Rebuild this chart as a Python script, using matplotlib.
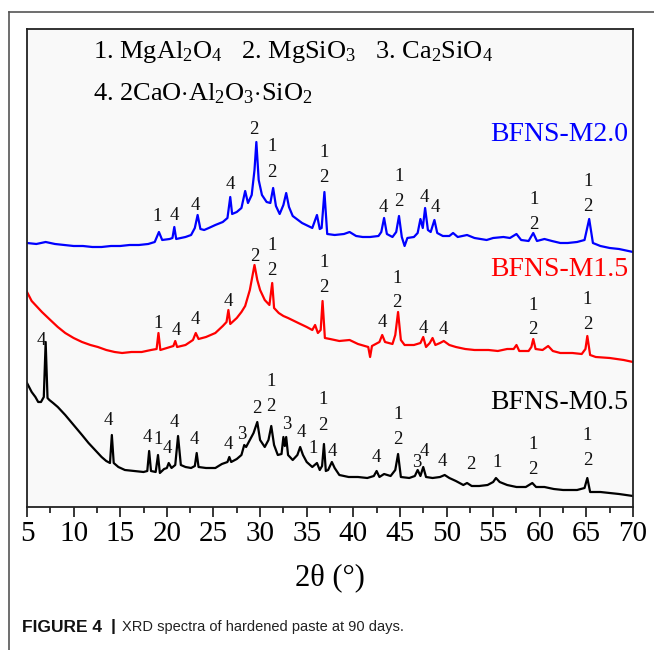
import matplotlib
matplotlib.use("Agg")
import matplotlib.pyplot as plt
from matplotlib.lines import Line2D
from matplotlib.ticker import MultipleLocator

plt.rcParams['font.family'] = ['Liberation Serif', 'DejaVu Serif']
plt.rcParams['mathtext.fontset'] = 'custom'
plt.rcParams['mathtext.rm'] = 'Liberation Serif'
plt.rcParams['mathtext.it'] = 'Liberation Serif:italic'

# ---- data (2theta in degrees, intensity in a.u.) ----
m20_tt = [5.0, 6.0, 7.0, 8.0, 9.0, 10.0, 11.0, 12.0, 13.0, 14.0, 15.0, 16.0, 17.0, 18.0, 18.7,
          19.15, 19.5, 20.3, 20.6, 20.8, 21.0, 21.5, 22.0, 22.6, 23.0, 23.3, 23.6, 24.0, 24.5,
          25.2, 26.0, 26.5, 26.8, 27.0, 27.5, 28.0, 28.4, 28.7, 29.1, 29.4, 29.6, 29.85, 30.2,
          30.7, 31.1, 31.4, 31.7, 32.1, 32.5, 32.8, 33.1, 33.5, 34.5, 35.6, 36.1, 36.4, 36.6,
          36.9, 37.2, 38.0, 39.0, 39.6, 40.3, 41.0, 41.8, 42.7, 43.0, 43.3, 43.6, 44.2, 44.6,
          44.9, 45.2, 45.5, 45.8, 46.5, 46.9, 47.2, 47.45, 47.7, 48.0, 48.3, 48.7, 49.0, 49.6,
          50.3, 50.7, 51.2, 52.2, 53.0, 54.3, 55.0, 56.1, 56.8, 57.5, 58.0, 58.8, 59.3, 59.7,
          60.5, 61.3, 62.2, 63.0, 64.0, 64.8, 65.3, 65.7, 66.5, 67.5, 68.5, 69.5, 70.0]
m20_int = [264, 263, 265, 263, 262, 261, 261, 260, 260, 261, 261, 262, 262, 263, 265,
           275, 267, 268, 269, 280, 268, 269, 270, 272, 279, 292, 278, 277, 279,
           282, 285, 289, 310, 293, 295, 299, 316, 304, 312, 337, 365, 327, 312,
           305, 304, 319, 301, 293, 302, 314, 300, 291, 284, 279, 292, 278, 279,
           315, 273, 272, 273, 275, 271, 270, 270, 271, 275, 289, 273, 270, 275,
           291, 270, 261, 269, 270, 274, 288, 279, 299, 277, 275, 287, 274, 271,
           271, 274, 270, 272, 269, 267, 269, 270, 269, 273, 267, 266, 274, 266,
           268, 266, 264, 264, 265, 267, 288, 264, 261, 259, 258, 256, 255]

m15_tt = [5.0, 5.5, 6.0, 6.6, 7.5, 8.3, 9.1, 10.0, 10.9, 11.8, 12.6, 13.5, 14.4, 15.2, 16.2,
          17.3, 18.3, 18.9, 19.1, 19.3, 20.0, 20.7, 20.9, 21.1, 22.0, 22.8, 23.1, 23.4, 24.2,
          25.2, 26.0, 26.4, 26.6, 26.8, 27.5, 28.0, 28.4, 28.9, 29.2, 29.4, 29.7, 30.0, 30.5,
          31.0, 31.3, 31.5, 32.0, 32.5, 33.0, 34.1, 35.0, 35.6, 35.9, 36.2, 36.5, 36.7, 36.95,
          37.5, 38.5, 39.6, 40.5, 41.6, 41.8, 42.0, 42.8, 43.1, 43.4, 44.2, 44.5, 44.8, 45.1,
          45.5, 46.5, 47.2, 47.5, 47.8, 48.2, 48.5, 48.8, 49.3, 49.7, 50.3, 51.0, 52.0, 53.0,
          54.5, 55.5, 56.5, 57.2, 57.5, 57.8, 58.8, 59.1, 59.3, 59.55, 60.3, 60.9, 61.4, 62.2,
          63.5, 64.5, 64.9, 65.1, 65.4, 66.0, 67.5, 69.0, 70.0]
m15_int = [215, 206, 201, 195, 187, 180, 174, 169, 165, 162, 160, 157, 155, 154, 155,
           155, 157, 158, 174, 157, 159, 161, 166, 160, 162, 167, 174, 168, 170,
           174, 181, 185, 197, 183, 189, 195, 201, 217, 232, 242, 227, 217, 207,
           202, 224, 199, 194, 191, 189, 184, 180, 177, 182, 174, 177, 206, 169,
           168, 166, 167, 163, 160, 150, 161, 165, 172, 165, 163, 172, 195, 167,
           162, 162, 164, 170, 160, 164, 169, 162, 164, 166, 162, 160, 158, 157,
           157, 156, 158, 158, 162, 156, 156, 160, 168, 158, 157, 161, 156, 154,
           154, 153, 158, 171, 152, 150, 149, 147, 145]

m05_tt = [5.0, 5.5, 5.9, 6.2, 6.5, 6.8, 7.0, 7.2, 7.4, 7.8, 8.3, 9.1, 10.0, 10.9, 11.6,
          12.3, 13.0, 13.5, 13.9, 14.1, 14.3, 14.8, 15.5, 16.5, 17.5, 17.9, 18.1, 18.3, 18.8,
          19.05, 19.25, 19.7, 20.0, 20.2, 20.5, 20.9, 21.2, 21.5, 22.0, 22.6, 23.0, 23.2, 23.4,
          24.2, 25.2, 25.9, 26.5, 26.7, 26.9, 27.5, 28.0, 28.3, 28.5, 28.9, 29.3, 29.7, 30.0,
          30.5, 30.9, 31.2, 31.5, 31.9, 32.3, 32.5, 32.65, 32.8, 33.0, 33.5, 34.0, 34.3, 34.6,
          35.0, 35.6, 36.1, 36.4, 36.65, 36.85, 37.05, 37.3, 37.7, 38.0, 38.5, 39.5, 40.5, 41.5,
          42.2, 42.5, 42.8, 43.3, 44.0, 44.5, 44.8, 45.1, 46.0, 46.6, 46.9, 47.2, 47.5, 47.8,
          48.5, 49.3, 49.8, 50.3, 51.0, 51.8, 52.2, 52.7, 53.5, 54.4, 55.0, 55.3, 55.7, 56.5,
          57.5, 58.5, 59.2, 59.6, 60.5, 61.5, 62.5, 64.0, 64.8, 65.1, 65.4, 66.5, 67.5, 68.5, 70.0]
m05_int = [124, 115, 110, 105, 105, 110, 165, 109, 107, 104, 100, 92, 82, 72, 64,
           57, 50, 46, 44, 72, 44, 40, 37, 36, 35, 36, 56, 36, 35,
           52, 34, 38, 39, 44, 39, 42, 71, 42, 40, 39, 41, 54, 40,
           39, 39, 43, 45, 50, 45, 48, 52, 62, 60, 67, 74, 85, 67,
           60, 67, 81, 62, 52, 53, 70, 61, 70, 52, 47, 52, 60, 52,
           45, 40, 44, 37, 41, 63, 36, 37, 45, 39, 32, 30, 30, 29,
           31, 36, 30, 33, 31, 37, 53, 30, 29, 31, 37, 31, 40, 30,
           29, 30, 32, 29, 26, 22, 24, 21, 21, 22, 25, 29, 25, 22,
           20, 20, 24, 20, 20, 18, 17, 17, 19, 29, 15, 15, 14, 13, 11]

# peak labels: (2theta, intensity, phase number)
m20_marks = [(19.0, 290, '1'), (20.8, 291, '4'), (23.0, 301, '4'), (26.8, 322, '4'),
             (29.35, 377, '2'), (31.3, 360, '1'), (31.3, 334, '2'), (36.85, 354, '1'),
             (36.85, 329, '2'), (43.2, 299, '4'), (44.9, 330, '1'), (44.9, 305, '2'),
             (47.6, 309, '4'), (48.8, 299, '4'), (59.4, 307, '1'), (59.4, 282, '2'),
             (65.2, 325, '1'), (65.2, 300, '2')]
m15_marks = [(19.05, 183, '1'), (21.0, 176, '4'), (23.1, 187, '4'), (26.6, 205, '4'),
             (29.45, 250, '2'), (31.3, 261, '1'), (31.3, 236, '2'), (36.85, 244, '1'),
             (36.85, 219, '2'), (43.1, 184, '4'), (44.7, 228, '1'), (44.7, 204, '2'),
             (47.5, 178, '4'), (49.7, 177, '4'), (59.3, 201, '1'), (59.3, 177, '2'),
             (65.1, 207, '1'), (65.1, 182, '2')]
m05_marks = [(6.5, 166, '4'), (13.7, 86, '4'), (17.9, 69, '4'), (19.05, 67, '1'),
             (20.0, 58, '4'), (20.8, 84, '4'), (22.9, 67, '4'), (26.6, 62, '4'),
             (28.0, 72, '3'), (29.6, 98, '2'), (31.2, 125, '1'), (31.2, 100, '2'),
             (32.9, 82, '3'), (34.4, 74, '4'), (35.7, 58, '1'), (36.75, 107, '1'),
             (36.75, 81, '2'), (37.7, 55, '4'), (42.5, 49, '4'), (44.8, 92, '1'),
             (44.8, 67, '2'), (46.8, 44, '3'), (47.6, 55, '4'), (49.5, 45, '4'),
             (52.6, 42, '2'), (55.4, 44, '1'), (59.3, 62, '1'), (59.3, 37, '2'),
             (65.1, 71, '1'), (65.1, 46, '2')]

samples = ['BFNS-M2.0', 'BFNS-M1.5', 'BFNS-M0.5']
sample_colors = ['#0000ff', '#ff0000', '#000000']
sample_label_y = [372, 237, 104]

phase_lines = [r'1. MgAl$_2$O$_4$   2. MgSiO$_3$   3. Ca$_2$SiO$_4$',
               r'4. 2CaO$\cdot$Al$_2$O$_3$$\cdot$SiO$_2$']

x_ticks = list(range(5, 75, 5))

# ---- figure ----
fig = plt.figure(figsize=(6.54, 6.50), dpi=100)
ax = fig.add_axes([0.0413, 0.22, 0.9266, 0.7354])
ax.set_facecolor('#f9f9f9')

curves = [(m20_tt, m20_int, m20_marks), (m15_tt, m15_int, m15_marks), (m05_tt, m05_int, m05_marks)]
for (tt, inten, marks), name, col, ly in zip(curves, samples, sample_colors, sample_label_y):
    ax.plot(tt, inten, color=col, lw=1.6)
    for px, py, s in marks:
        ax.text(px, py, s, fontsize=13.5, ha='center', va='center', color='#111111')
    ax.text(69.5, ly, name, fontsize=20, ha='right', va='center', color=col)

ax.text(12.1, 455, phase_lines[0], fontsize=19, ha='left', va='center')
ax.text(12.1, 413, phase_lines[1], fontsize=19, ha='left', va='center')

ax.set_xlim(5, 70)
ax.set_ylim(0, 478)
ax.set_xticks(x_ticks)
ax.xaxis.set_minor_locator(MultipleLocator(2.5))
ax.set_yticks([])
ax.tick_params(axis='x', which='major', direction='out', length=7, width=1.1,
               labelsize=21, pad=3, top=False)
ax.tick_params(axis='x', which='minor', direction='out', length=4, width=1.1, top=False)
for sp in ax.spines.values():
    sp.set_linewidth(1.3)
    sp.set_color('#222222')
ax.set_xlabel('2θ (°)', fontsize=22, labelpad=12)

# outer frame lines
fig.add_artist(Line2D([9 / 654, 1.0], [1 - 12 / 650, 1 - 12 / 650], color='#555555', lw=1.2,
                      transform=fig.transFigure))
fig.add_artist(Line2D([9 / 654, 9 / 654], [0.0, 1 - 12 / 650], color='#555555', lw=1.2,
                      transform=fig.transFigure))

# caption
cap_y = 1 - 627 / 650
fig.text(22 / 654, cap_y, 'FIGURE 4', fontsize=12.5, fontweight='bold',
         family='Liberation Sans', ha='left', va='center', color='#111111')
fig.text(111 / 654, cap_y, '|', fontsize=12.5, fontweight='bold',
         family='Liberation Sans', ha='left', va='center', color='#111111')
fig.text(122 / 654, cap_y, 'XRD spectra of hardened paste at 90 days.', fontsize=10.5,
         family='Liberation Sans', ha='left', va='center', color='#222222')

fig.savefig('out.png', dpi=100, facecolor='white')
